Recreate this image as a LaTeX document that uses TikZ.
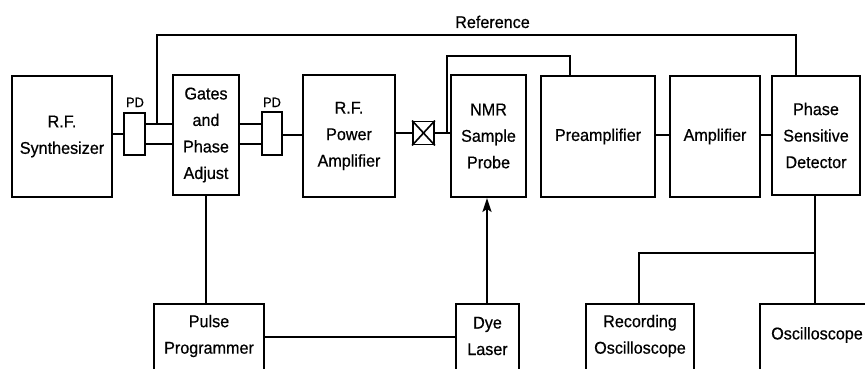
\documentclass[tikz,border=0pt]{standalone}
\usepackage{fontspec}
\setmainfont{Liberation Sans}[FakeStretch=0.95,FakeBold=0.6]
\usetikzlibrary{arrows.meta}
\begin{document}
\begin{tikzpicture}[x=1pt,y=-1pt,
  box/.style={draw, line width=1.9pt, inner sep=0pt, font=\fontsize{17}{26.5}\selectfont, align=center},
  txt/.style={font=\fontsize{17}{26.5}\selectfont, align=center, inner sep=0pt},
  wire/.style={line width=2pt},
  lbl/.style={font=\fontsize{13.5}{15}\selectfont, inner sep=0pt}]
\useasboundingbox (0,0) rectangle (865,369);
\clip (0,0) rectangle (865,369);
% top row
\node[box, minimum width=100, minimum height=121] (synth) at (62,136.5) {R.F.\\Synthesizer};
\node[box, minimum width=21, minimum height=42] (pd1) at (134.5,134) {};
\node[box, minimum width=66, minimum height=120] (gates) at (206,135) {Gates\\and\\Phase\\Adjust};
\node[box, minimum width=20, minimum height=43] (pd2) at (272,133.5) {};
\node[box, minimum width=92, minimum height=122] (rfpa) at (349,136) {R.F.\\Power\\Amplifier};
\node[box, minimum width=21, minimum height=23] (xb) at (423.5,133) {};
\node[box, minimum width=75, minimum height=122] (nmr) at (488.5,136) {NMR\\Sample\\Probe};
\node[box, minimum width=114, minimum height=121] (pre) at (598,136.5) {Preamplifier};
\node[box, minimum width=90, minimum height=121] (amp) at (715,136.5) {Amplifier};
\node[box, minimum width=88, minimum height=119] (psd) at (816,135.5) {Phase\\Sensitive\\Detector};
% bottom row (cut by the page edge)
\node[box, minimum width=110, minimum height=90, anchor=north] (pulse) at (209,303) {};
\node[txt] (pulset) at (209,336) {Pulse\\Programmer};
\node[box, minimum width=63, minimum height=90, anchor=north] (dye) at (487.5,303) {};
\node[txt] (dyet) at (487.5,336) {Dye\\Laser};
\node[box, minimum width=108, minimum height=90, anchor=north] (rec) at (640,303) {};
\node[txt] (rect) at (640,336) {Recording\\Oscilloscope};
\node[box, minimum width=120, minimum height=90, anchor=north] (osc) at (820,303) {};
\node[txt] (osct) at (817,335) {Oscilloscope};
% labels
\node[lbl, anchor=base] (pdl1) at (135,107) {PD};
\node[lbl, anchor=base] (pdl2) at (272,107) {PD};
\node[txt, anchor=base] (refl) at (492.5,28) {Reference};
% cross
\draw[line width=1.6pt] (xb.north west) -- (xb.south east) (xb.north east) -- (xb.south west);
% connectors
\draw[wire] (synth.east |- pd1.west) -- (pd1.west);
\draw[wire] (pd1.east |- 0,124) -- (gates.west |- 0,124);
\draw[wire] (pd1.east |- 0,144) -- (gates.west |- 0,144);
\draw[wire] (gates.east |- 0,124) -- (pd2.west |- 0,124);
\draw[wire] (gates.east |- 0,144) -- (pd2.west |- 0,144);
\draw[wire] (pd2.east |- 0,135) -- (rfpa.west |- 0,135);
\draw[wire] (rfpa.east |- xb.west) -- (xb.west);
\draw[wire] (xb.east) -- (nmr.west |- xb.east);
\coordinate (refj) at (157,124);
\draw[wire] (refj) -- (157,35) -- (796,35) -- (psd.north -| 796,35);
\coordinate (pj) at (447,133);
\draw[wire] (pj) -- (447,56) -- (570,56) -- (pre.north -| 570,56);
\draw[wire] (pre.east |- 0,135) -- (amp.west |- 0,135);
\draw[wire] (amp.east |- 0,135) -- (psd.west |- 0,135);
\draw[wire] (gates.south) -- (pulse.north -| gates.south);
\draw[wire] (pulse.east |- 0,337) -- (dye.west |- 0,337);
\draw[wire, -{Stealth[length=14pt,width=9pt,inset=3pt]}] (dye.north -| 487,0) -- (nmr.south -| 487,0);
\coordinate (oj) at (815,253);
\draw[wire] (psd.south -| oj) -- (osc.north -| oj);
\draw[wire] (oj) -- (639,253) -- (rec.north -| 639,253);
\end{tikzpicture}
\end{document}
